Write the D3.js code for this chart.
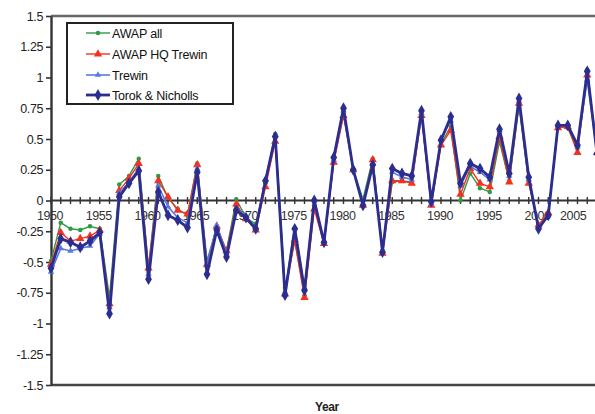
<!DOCTYPE html>
<html>
<head>
<meta charset="utf-8">
<script src="https://cdn.jsdelivr.net/npm/d3@7"></script>
<style>
body { margin: 0; background: #fff; }
text { font-family: "Liberation Sans", Arial, sans-serif; }
</style>
</head>
<body>
<div id="chart"></div>
<script>
const years = d3.range(1950, 2007)

const awap_all = [-0.49, -0.18, -0.23, -0.24, -0.21, -0.23, -0.79, 0.13, 0.2, 0.34, -0.55, 0.2,
    0.02, -0.07, -0.12, 0.3, -0.49, -0.22, -0.41, 0.01, -0.14, -0.19, 0.14, 0.54,
    -0.71, -0.33, -0.77, -0.04, -0.34, 0.33, 0.7, 0.25, 0.01, 0.34, -0.41,
    0.15, 0.16, 0.15, 0.7, -0.03, 0.46, 0.6, 0.0, 0.22, 0.1, 0.07, 0.48, 0.16, 0.77, 0.15,
    -0.21, -0.11, 0.6, 0.59, 0.42, 1.06, 0.4]
const awap_hq = [-0.52, -0.26, -0.33, -0.31, -0.29, -0.24, -0.84, 0.08, 0.18, 0.3, -0.55, 0.16,
    0.03, -0.08, -0.11, 0.29, -0.52, -0.21, -0.41, -0.03, -0.15, -0.24, 0.11, 0.48,
    -0.76, -0.32, -0.79, -0.07, -0.35, 0.31, 0.69, 0.25, -0.04, 0.33, -0.43,
    0.16, 0.16, 0.14, 0.69, -0.04, 0.45, 0.57, 0.05, 0.26, 0.14, 0.11, 0.52, 0.15, 0.79, 0.14,
    -0.2, -0.1, 0.59, 0.6, 0.39, 1.02, 0.39]
const trewin = [-0.58, -0.39, -0.41, -0.39, -0.37, -0.27, -0.87, 0.06, 0.15, 0.26, -0.6, 0.12,
    -0.05, -0.14, -0.18, 0.26, -0.53, -0.2, -0.43, -0.06, -0.13, -0.22, 0.17, 0.53,
    -0.74, -0.22, -0.71, 0.01, -0.34, 0.33, 0.73, 0.25, -0.03, 0.3, -0.41,
    0.23, 0.19, 0.17, 0.71, -0.03, 0.5, 0.65, 0.12, 0.28, 0.23, 0.17, 0.57, 0.2, 0.81, 0.17,
    -0.22, -0.12, 0.61, 0.62, 0.44, 0.98, 0.39]
const torok = [-0.55, -0.31, -0.34, -0.38, -0.33, -0.26, -0.92, 0.03, 0.14, 0.24, -0.64, 0.07,
    -0.12, -0.16, -0.22, 0.23, -0.6, -0.24, -0.46, -0.08, -0.14, -0.23, 0.16, 0.52,
    -0.77, -0.23, -0.73, 0.0, -0.34, 0.35, 0.75, 0.25, -0.04, 0.29, -0.42,
    0.26, 0.22, 0.2, 0.73, -0.01, 0.49, 0.68, 0.14, 0.3, 0.26, 0.19, 0.58, 0.22, 0.83, 0.19,
    -0.23, -0.12, 0.61, 0.61, 0.45, 1.05, 0.38]

const series_names = ["AWAP all", "AWAP HQ Trewin", "Trewin", "Torok & Nicholls"]
const series_values = [awap_all, awap_hq, trewin, torok]
const y_ticks = [-1.5, -1.25, -1, -0.75, -0.5, -0.25, 0, 0.25, 0.5, 0.75, 1, 1.25, 1.5]
const x_labels = [1950, 1955, 1960, 1965, 1970, 1975, 1980, 1985, 1990, 1995, 2000, 2005]

const colors = ["#2f9a45", "#f5301f", "#5a78e0", "#2b2e8e"]
const widths = [1.4, 1.4, 1.6, 2.8]
const symbols = [d3.symbolCircle, d3.symbolTriangle, d3.symbolTriangle, d3.symbolDiamond]
const sym_sizes = [16, 30, 18, 40]

const width = 595, height = 414
const m_left = 51, m_top = 16, m_bottom = 385

let svg = d3.select("#chart").append("svg")
    .attr("width", width)
    .attr("height", height)

const x = d3.scaleLinear().domain([1950, 2006]).range([m_left, m_left + 56 * 9.75])
const y = d3.scaleLinear().domain([-1.5, 1.5]).range([m_bottom, m_top])

// frame
svg.append("line").attr("x1", m_left).attr("x2", width + 5).attr("y1", m_top).attr("y2", m_top)
    .attr("stroke", "#666").attr("stroke-width", 2.4)
svg.append("line").attr("x1", m_left).attr("x2", width + 5).attr("y1", m_bottom).attr("y2", m_bottom)
    .attr("stroke", "#444").attr("stroke-width", 2.4)

// y axis
let yg = svg.append("g")
    .attr("transform", "translate(" + m_left + ",0)")
    .call(d3.axisLeft(y)
        .tickValues(y_ticks)
        .tickSizeInner(5)
        .tickSizeOuter(0)
        .tickPadding(3)
        .tickFormat(d => String(d)))
yg.select(".domain").attr("stroke", "#333").attr("stroke-width", 2.4)
yg.selectAll(".tick line").attr("stroke", "#333").attr("stroke-width", 1.6)
yg.selectAll("text").style("font-size", "12.5px").attr("fill", "#222").style("letter-spacing", "-0.4px")

// x axis on zero line
let xg = svg.append("g")
    .attr("transform", "translate(0," + y(0) + ")")
xg.append("line").attr("x1", m_left).attr("x2", width + 5).attr("stroke", "#333").attr("stroke-width", 2.2)
xg.selectAll(".yt").data(d3.range(1950, 2008))
    .enter().append("line")
    .attr("x1", d => x(d)).attr("x2", d => x(d))
    .attr("y1", -3.5).attr("y2", 3.5)
    .attr("stroke", "#333").attr("stroke-width", 1.4)
// last label would run off the edge, so pin it to the right side
xg.selectAll(".xl").data(x_labels)
    .enter().append("text")
    .attr("x", d => Math.min(x(d) - 1, width - 1))
    .attr("y", 19)
    .attr("text-anchor", d => x(d) + 13 > width ? "end" : "middle")
    .style("font-size", "12.5px")
    .style("letter-spacing", "-0.4px")
    .attr("fill", "#333")
    .text(d => d)

// series
const line = d3.line()
    .x((d, i) => x(years[i]))
    .y(d => y(d))

for (let i = 0; i < series_values.length; i++) {
    svg.append("path")
        .datum(series_values[i])
        .attr("fill", "none")
        .attr("stroke", colors[i])
        .attr("stroke-width", widths[i])
        .attr("stroke-linejoin", "round")
        .attr("d", line)
    svg.append("g").selectAll("path")
        .data(series_values[i])
        .enter().append("path")
        .attr("transform", (d, k) => "translate(" + x(years[k]) + "," + y(d) + ")")
        .attr("d", d3.symbol().type(symbols[i]).size(sym_sizes[i]))
        .attr("fill", colors[i])
}

// legend
let legend = svg.append("g")
legend.append("rect")
    .attr("x", 67).attr("y", 23).attr("width", 166).attr("height", 81)
    .attr("fill", "#fff").attr("stroke", "#222").attr("stroke-width", 2)
const rows = [33, 54, 75, 95]
for (let i = 0; i < series_names.length; i++) {
    legend.append("line")
        .attr("x1", 86).attr("x2", 110).attr("y1", rows[i]).attr("y2", rows[i])
        .attr("stroke", colors[i]).attr("stroke-width", widths[i])
    legend.append("path")
        .attr("transform", "translate(98," + rows[i] + ")")
        .attr("d", d3.symbol().type(symbols[i]).size(sym_sizes[i]))
        .attr("fill", colors[i])
    legend.append("text")
        .attr("x", 112).attr("y", rows[i] + 4.5)
        .style("font-size", "12.5px")
        .style("letter-spacing", "-0.2px")
        .attr("fill", "#111")
        .text(series_names[i])
}

svg.append("text")
    .attr("x", 327).attr("y", 411)
    .attr("text-anchor", "middle")
    .style("font-size", "12px")
    .style("font-weight", "bold")
    .style("letter-spacing", "-0.4px")
    .attr("fill", "#222")
    .text("Year")
</script>
</body>
</html>
